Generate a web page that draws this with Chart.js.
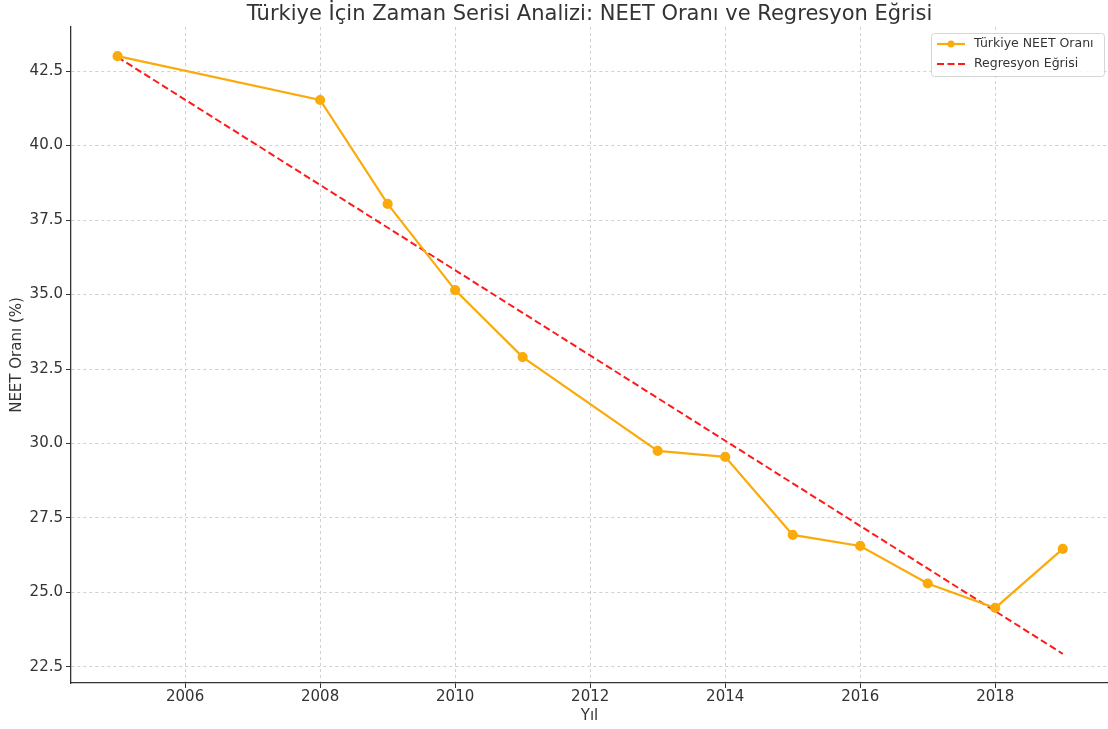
<!DOCTYPE html>
<html>
<head>
<meta charset="utf-8">
<script src="https://cdn.jsdelivr.net/npm/chart.js@4.4.0/dist/chart.umd.min.js"></script>
<style>
  html, body { margin: 0; padding: 0; background: #fff; }
  #wrap { width: 1108px; height: 729px; }
</style>
</head>
<body>
<div id="wrap"><canvas id="c"></canvas></div>
<script>
// Veri
const years = [2005, 2008, 2009, 2010, 2011, 2013, 2014, 2015, 2016, 2017, 2018, 2019];
const neetRates = [43.0, 41.53, 38.04, 35.15, 32.9, 29.75, 29.55, 26.93, 26.56, 25.3, 24.48, 26.46];
const regYears = [2005, 2019];
const regValues = [42.97, 22.94];
const xTicks = [2006, 2008, 2010, 2012, 2014, 2016, 2018];
const yTicks = [22.5, 25.0, 27.5, 30.0, 32.5, 35.0, 37.5, 40.0, 42.5];

const titleText = 'Türkiye İçin Zaman Serisi Analizi: NEET Oranı ve Regresyon Eğrisi';
const FONT = "'DejaVu Sans', sans-serif";

// Başlık: çizim alanının ortasına
const titlePlugin = {
    id: 'topTitle',
    afterDraw(chart) {
        const { ctx, chartArea } = chart;
        ctx.save();
        ctx.font = '21px ' + FONT;
        ctx.fillStyle = '#333';
        ctx.textAlign = 'center';
        ctx.textBaseline = 'alphabetic';
        ctx.fillText(titleText, (chartArea.left + chartArea.right) / 2, 20);
        ctx.restore();
    }
};

// Lejant: sağ üstte, kutulu
const legendPlugin = {
    id: 'boxLegend',
    afterDraw(chart) {
        const { ctx } = chart;
        const x = 931, y = 33, w = 173, h = 43;
        ctx.save();
        ctx.fillStyle = 'rgba(255,255,255,0.85)';
        ctx.strokeStyle = '#d5d5d5';
        ctx.lineWidth = 1;
        ctx.beginPath();
        ctx.roundRect(x + 0.5, y + 0.5, w, h, 3);
        ctx.fill();
        ctx.stroke();
        ctx.font = '12.5px ' + FONT;
        ctx.textBaseline = 'middle';
        chart.data.datasets.forEach((ds, i) => {
            const ly = y + 11 + i * 20;
            ctx.strokeStyle = ds.borderColor;
            ctx.lineWidth = ds.borderWidth;
            ctx.setLineDash(ds.borderDash || []);
            ctx.beginPath();
            ctx.moveTo(x + 6, ly);
            ctx.lineTo(x + 34, ly);
            ctx.stroke();
            ctx.setLineDash([]);
            if (ds.pointRadius > 0) {
                ctx.fillStyle = ds.pointBackgroundColor;
                ctx.beginPath();
                ctx.arc(x + 20, ly, 3.5, 0, Math.PI * 2);
                ctx.fill();
            }
            ctx.fillStyle = '#333';
            ctx.fillText(ds.label, x + 43, ly);
        });
        ctx.restore();
    }
};

new Chart(document.getElementById('c'), {
    type: 'line',
    data: {
        datasets: [
            {
                label: 'Türkiye NEET Oranı',
                data: years.map((yr, i) => ({ x: yr, y: neetRates[i] })),
                borderColor: '#fbaa0c',
                backgroundColor: '#fbaa0c',
                pointBackgroundColor: '#fbaa0c',
                pointBorderColor: '#fbaa0c',
                borderWidth: 2.2,
                pointRadius: 4,
                tension: 0
            },
            {
                label: 'Regresyon Eğrisi',
                data: regYears.map((yr, i) => ({ x: yr, y: regValues[i] })),
                borderColor: '#ff1a1a',
                backgroundColor: '#ff1a1a',
                borderWidth: 2,
                borderDash: [7, 3.5],
                pointRadius: 0,
                tension: 0
            }
        ]
    },
    options: {
        responsive: true, maintainAspectRatio: false,
        animation: false,
        layout: { autoPadding: false, padding: { top: 27, right: 0, left: 0, bottom: 0 } },
        plugins: { legend: { display: false }, title: { display: false }, tooltip: { enabled: false } },
        scales: {
            x: {
                type: 'linear',
                min: 2004.31, max: 2019.67,
                afterBuildTicks: (axis) => { axis.ticks = xTicks.map(v => ({ value: v })); },
                afterFit: (axis) => { axis.paddingRight = 0; axis.paddingLeft = 0; axis.height = 46; },
                ticks: { color: '#333', font: { size: 15, family: FONT }, padding: 0, callback: v => String(v) },
                grid: { color: '#d0d0d0', lineWidth: 1, tickColor: '#333', tickLength: 5, tickBorderDash: [] },
                border: { color: '#333', width: 1.3, dash: [3, 3] },
                title: { display: true, text: 'Yıl', color: '#333', font: { size: 15, family: FONT }, padding: { top: 0, bottom: 4 } }
            },
            y: {
                min: 21.96, max: 43.98,
                afterBuildTicks: (axis) => { axis.ticks = yTicks.map(v => ({ value: v })); },
                afterFit: (axis) => { axis.width = 71; },
                ticks: { color: '#333', font: { size: 15, family: FONT }, padding: 3, callback: v => v.toFixed(1) },
                grid: { color: '#d0d0d0', lineWidth: 1, tickColor: '#333', tickLength: 5, tickBorderDash: [] },
                border: { color: '#333', width: 1.3, dash: [3, 3] },
                title: { display: true, text: 'NEET Oranı (%)', color: '#333', font: { size: 15, family: FONT }, padding: { top: 8, bottom: 0 } }
            }
        }
    },
    plugins: [titlePlugin, legendPlugin]
});
</script>
</body>
</html>
